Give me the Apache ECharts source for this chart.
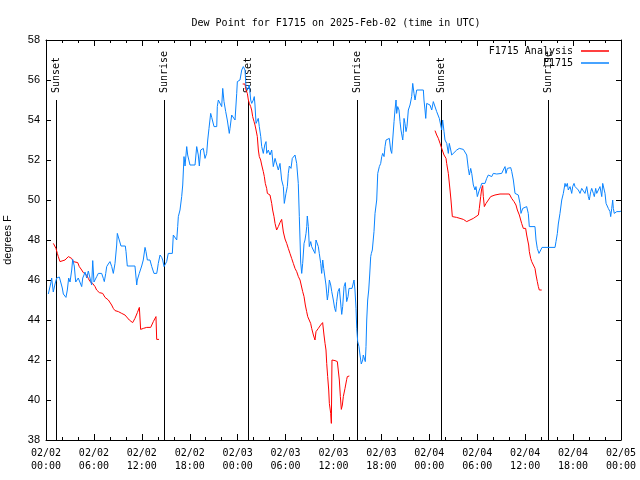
<!DOCTYPE html>
<html>
<head>
<meta charset="utf-8">
<script src="https://cdn.jsdelivr.net/npm/echarts@6/dist/echarts.min.js"></script>
<style>html,body{margin:0;padding:0;background:#fff}#c{width:640px;height:480px}</style>
</head>
<body>
<div id="c"></div>
<script>
// ---------- DATA ----------
const titleText = 'Dew Point for F1715 on 2025-Feb-02 (time in UTC)';
const yAxisName = 'degrees F';
const xTickLabels = ['02/02\n00:00','02/02\n06:00','02/02\n12:00','02/02\n18:00','02/03\n00:00','02/03\n06:00','02/03\n12:00','02/03\n18:00','02/04\n00:00','02/04\n06:00','02/04\n12:00','02/04\n18:00','02/05\n00:00'];
const yMin = 38, yMax = 58, yStep = 2;
const xMin = 0, xMax = 72, xStep = 6; // hours since 02/02 00:00 UTC

// Sun events (hours since start)
const sunHours = [1.25, 14.81, 25.33, 38.91, 49.42, 62.90];
const sunLabels = ['Sunset','Sunrise','Sunset','Sunrise','Sunset','Sunrise'];
const sunLineTop = 55;

// F1715 observations
const obsHours = [0.29,0.63,0.71,0.91,1.13,1.34,1.67,1.84,2.04,2.17,2.50,2.67,2.84,3.01,3.22,3.34,3.54,3.72,4.04,4.26,4.47,4.60,4.76,4.88,5.10,5.30,5.51,5.72,5.85,6.01,6.35,6.55,6.97,7.18,7.30,7.48,7.60,7.80,8.01,8.23,8.43,8.64,8.85,8.93,9.18,9.39,9.93,10.02,10.18,11.14,11.36,11.43,11.68,11.98,12.18,12.40,12.52,12.69,13.02,13.24,13.52,13.86,13.94,14.06,14.28,14.49,14.61,14.78,15.03,15.11,15.31,15.82,15.94,16.15,16.37,16.49,16.57,16.78,16.99,17.12,17.28,17.41,17.62,17.74,18.03,18.66,18.87,19.07,19.20,19.37,19.50,19.70,19.91,20.12,20.25,20.41,20.62,20.75,20.95,21.04,21.38,21.45,21.58,21.79,22.00,22.13,22.29,22.50,22.70,22.95,23.04,23.25,23.45,23.67,23.88,23.96,24.29,24.51,24.71,24.92,25.04,25.21,25.33,25.46,25.63,25.76,25.96,26.08,26.17,26.30,26.46,26.58,26.71,26.89,27.01,27.21,27.39,27.55,27.64,27.84,28.05,28.26,28.46,28.68,28.89,29.09,29.30,29.51,29.72,29.84,30.05,30.22,30.34,30.47,30.68,30.84,31.18,31.39,31.59,31.72,31.81,31.89,32.02,32.14,32.31,32.43,32.56,32.65,32.72,32.85,32.97,33.15,33.27,33.47,33.68,33.81,33.97,34.10,34.22,34.40,34.52,34.65,34.77,34.94,35.06,35.23,35.35,35.48,35.65,35.78,35.98,36.15,36.28,36.40,36.56,36.73,36.94,37.03,37.15,37.32,37.48,37.65,37.82,37.94,38.15,38.32,38.48,38.57,38.69,38.82,38.91,39.03,39.19,39.32,39.48,39.66,39.73,39.86,39.98,40.07,40.16,40.28,40.41,40.53,40.66,40.74,40.86,40.99,41.07,41.20,41.41,41.54,41.74,41.91,42.04,42.16,42.33,42.45,42.58,42.74,42.99,43.16,43.29,43.41,43.58,43.70,43.83,43.91,44.04,44.20,44.33,44.45,44.67,44.74,44.83,44.95,45.08,45.20,45.37,45.58,45.79,45.92,46.08,46.21,46.42,46.62,47.25,47.33,47.46,47.55,47.67,47.87,48.08,48.30,48.50,48.71,48.92,49.12,49.25,49.42,49.55,49.67,49.84,49.96,50.18,50.38,50.50,50.68,50.80,51.00,51.43,51.75,52.26,52.47,52.68,52.88,53.01,53.18,53.31,53.51,53.72,53.84,54.01,54.26,54.43,54.56,54.76,54.97,55.18,55.39,55.60,55.81,56.01,56.44,57.06,57.26,57.48,57.60,57.77,57.94,58.19,58.32,58.52,58.73,59.14,59.35,59.48,59.69,60.19,60.39,60.52,61.23,61.36,61.52,61.73,61.95,62.11,63.74,63.86,64.03,64.15,64.36,64.58,64.78,64.99,65.11,65.28,65.40,65.62,65.83,65.95,66.12,66.24,66.45,66.66,66.87,67.08,67.28,67.49,67.71,67.91,68.03,68.21,68.33,68.54,68.66,68.83,68.96,69.16,69.37,69.59,69.71,69.87,70.00,70.13,70.29,70.41,70.62,70.71,70.84,70.96,71.04,71.16,71.29,71.47,71.67,71.88,72.00];
const obsValues = [45.3,45.9,46.1,45.4,45.8,46.1,46.15,46.25,45.6,45.3,45.13,45.5,46.1,45.9,46.5,47.03,46.7,45.9,46.1,46.1,45.67,46.1,46.25,46.4,46.1,46.45,46.45,45.75,46.97,45.9,46.17,46.33,46.33,46.08,45.92,46.33,46.67,46.8,46.92,46.67,46.33,46.83,47.75,48.33,48.33,47.7,47.7,47.42,46.7,46.7,45.75,46.0,46.33,46.7,47.0,47.63,47.42,47.0,47.0,46.67,46.33,46.33,46.5,46.83,47.25,47.13,47.0,46.67,46.67,46.92,47.33,47.33,48.25,48.17,48.0,48.67,49.17,49.5,50.17,50.75,52.17,51.7,52.67,52.25,51.75,51.75,52.67,52.25,51.7,52.5,52.58,52.58,52.08,52.33,53.0,53.58,54.33,54.13,54.08,53.67,53.67,54.67,55.0,55.08,54.67,55.58,54.92,54.42,54.0,53.33,53.58,54.25,54.33,54.0,55.33,55.92,56.0,56.5,56.67,56.5,55.67,55.5,55.42,55.75,55.0,54.83,55.0,55.17,54.75,53.83,53.75,54.08,53.67,53.17,52.67,52.33,52.75,52.92,52.33,52.5,52.25,52.5,51.67,52.08,52.17,51.5,51.83,51.0,50.67,49.83,50.33,50.67,51.33,51.7,51.58,52.08,52.25,51.83,50.83,49.17,48.0,46.9,46.33,46.83,47.83,48.0,48.33,48.67,49.2,48.67,47.67,47.92,47.67,47.5,47.33,48.0,47.97,47.67,47.33,46.83,46.33,47.0,46.58,46.5,45.75,45.0,45.33,46.0,45.75,45.42,45.0,44.58,44.42,44.92,45.42,45.58,45.58,44.28,44.67,45.67,45.87,44.92,45.17,45.58,45.5,45.58,45.58,46.0,45.5,44.58,43.58,42.92,42.67,42.25,41.8,42.0,42.25,42.17,41.92,42.67,44.0,45.0,45.5,46.25,47.17,47.33,47.5,47.58,48.42,49.33,50.0,51.33,51.67,51.83,52.17,52.33,52.17,52.67,53.0,53.0,53.08,52.5,52.33,53.0,53.92,54.5,55.0,54.33,54.67,54.5,53.92,53.5,53.0,53.33,54.08,53.83,53.42,53.67,54.5,54.75,55.17,55.83,55.33,55.0,55.5,55.5,55.5,55.0,54.5,54.08,54.83,54.92,54.75,54.5,54.92,54.83,54.42,54.33,54.08,54.17,53.5,54.0,53.42,53.0,52.83,52.33,52.83,52.5,52.25,52.33,52.5,52.58,52.53,52.5,52.25,51.58,51.25,51.58,51.33,50.75,50.5,50.67,50.17,50.5,50.67,50.83,50.92,50.83,51.08,51.25,51.33,51.17,51.33,51.3,51.33,51.5,51.67,51.33,51.58,51.58,51.62,51.42,51.0,50.33,50.25,49.83,49.33,49.58,49.67,49.33,48.67,48.67,48.0,47.58,47.33,47.5,47.63,47.63,47.92,48.33,48.8,49.33,50.0,50.33,50.83,50.67,50.83,50.5,50.67,50.33,50.67,50.83,50.67,50.75,50.5,50.33,50.58,50.67,50.33,50.67,50.17,50.0,50.42,50.58,50.33,50.17,50.58,50.33,50.42,50.67,50.17,50.83,50.92,50.33,49.83,49.75,49.58,49.42,49.17,49.58,50.0,49.58,49.33,49.42,49.42,49.5,49.42,49.45];

// F1715 Analysis (three separate runs)
const anaHours1 = [0.92,1.13,1.25,1.42,1.54,1.75,2.00,2.38,2.80,3.01,3.21,3.42,3.63,3.97,4.17,4.47,4.67,5.09,5.30,5.51,5.84,6.14,6.34,6.68,7.10,7.39,7.81,8.01,8.22,8.43,8.64,9.06,9.48,9.68,9.89,10.10,10.43,10.85,11.14,11.44,11.69,11.85,12.19,12.61,13.11,13.44,13.77,13.86,14.15];
const anaValues1 = [47.83,47.8,47.58,47.33,47.17,46.92,46.87,47.0,47.17,47.17,47.08,46.92,46.87,46.87,46.67,46.5,46.37,46.25,46.08,45.92,45.83,45.67,45.5,45.37,45.33,45.13,45.0,44.92,44.75,44.58,44.47,44.42,44.33,44.3,44.25,44.17,44.0,43.87,44.08,44.37,44.63,43.53,43.58,43.63,43.63,43.92,44.17,43.03,43.03];
const anaHours2 = [24.63,24.92,25.04,25.21,25.34,25.46,25.63,25.75,25.88,26.05,26.17,26.30,26.46,26.59,26.71,26.88,27.01,27.21,27.34,27.46,27.63,27.72,28.05,28.26,28.38,28.55,28.68,28.88,29.09,29.30,29.51,29.72,29.93,30.14,30.34,30.55,30.76,30.97,31.18,31.39,31.60,31.81,32.01,32.14,32.31,32.47,32.64,32.77,32.97,33.14,33.27,33.48,33.68,33.81,34.10,34.39,34.64,34.81,34.94,35.06,35.15,35.27,35.40,35.48,35.65,35.73,35.81,36.19,36.48,36.73,36.86,36.98,37.11,37.23,37.44,37.65,37.73,37.98];
const anaValues2 = [55.8,55.8,55.5,55.33,55.0,54.83,54.67,54.5,54.17,53.92,53.75,53.5,53.17,52.5,52.17,52.0,51.75,51.42,51.17,50.83,50.58,50.33,50.25,49.83,49.5,49.17,48.83,48.5,48.67,48.87,49.03,48.4,48.05,47.83,47.58,47.33,47.08,46.83,46.58,46.42,46.17,46.0,45.92,45.42,45.17,44.75,44.42,44.17,44.08,43.83,43.58,43.25,43.0,43.42,43.58,43.75,43.87,43.25,42.83,42.5,41.83,41.17,40.5,39.83,39.33,38.83,42.0,41.97,41.92,41.0,40.17,39.53,39.75,40.17,40.58,41.03,41.17,41.2];
const anaHours3 = [48.71,48.92,49.13,49.34,49.55,49.84,50.09,50.17,50.38,50.59,50.71,50.88,51.42,51.84,52.26,52.68,53.09,53.51,53.84,54.14,54.26,54.43,54.56,54.68,54.76,54.89,55.10,55.39,55.68,56.22,56.85,57.48,58.02,58.31,58.60,58.85,59.02,59.27,59.56,59.77,60.06,60.19,60.31,60.44,60.52,60.69,60.82,61.02,61.23,61.36,61.52,61.65,61.77,62.07];
const anaValues3 = [53.47,53.25,53.08,52.83,52.58,52.25,52.08,51.83,51.33,50.5,50.0,49.17,49.13,49.08,49.03,48.92,49.0,49.08,49.17,49.25,49.58,50.17,50.58,50.72,50.17,49.67,49.83,50.0,50.17,50.25,50.3,50.3,50.3,50.08,49.92,49.75,49.5,49.25,48.83,48.58,48.58,48.25,48.0,47.75,47.42,47.08,46.92,46.87,46.58,46.25,45.92,45.67,45.5,45.5];

// ---------- BUILD ----------
const zip = (a, b) => a.map((v, i) => [v, b[i]]);
const anaData = zip(anaHours1, anaValues1)
  .concat([[ (anaHours1[anaHours1.length-1] + anaHours2[0]) / 2, null ]])
  .concat(zip(anaHours2, anaValues2))
  .concat([[ (anaHours2[anaHours2.length-1] + anaHours3[0]) / 2, null ]])
  .concat(zip(anaHours3, anaValues3));
const obsData = zip(obsHours, obsValues);
const sunData = sunHours.map((h, i) => [h, sunLabels[i]]);

const MONO = '"DejaVu Sans Mono", "Liberation Mono", monospace';
const SANS = '"Liberation Sans", Arial, sans-serif';
const RED = '#ff0000', BLUE = '#0a84ff';

const axisCommonX = {
  type: 'value', min: xMin, max: xMax, interval: xStep,
  axisLine: { show: true, onZero: false, lineStyle: { color: '#000', width: 1 } },
  axisTick: { show: true, inside: true, length: 6, lineStyle: { color: '#000' } },
  minorTick: { show: true, splitNumber: 3, length: 3, lineStyle: { color: '#000' } },
  splitLine: { show: false }
};
const axisCommonY = {
  type: 'value', min: yMin, max: yMax, interval: yStep,
  axisLine: { show: true, onZero: false, lineStyle: { color: '#000', width: 1 } },
  axisTick: { show: true, inside: true, length: 5, lineStyle: { color: '#000' } },
  splitLine: { show: false }
};

const chart = echarts.init(document.getElementById('c'), null, { renderer: 'canvas' });
chart.setOption({
  animation: false,
  backgroundColor: '#fff',
  title: {
    text: titleText, left: 331, top: 13, textAlign: 'center',
    textStyle: { fontFamily: MONO, fontSize: 10, fontWeight: 'normal', color: '#000' }
  },
  legend: [
    { data: ['F1715 Analysis'], right: 31, top: 46, padding: 0, align: 'right', orient: 'vertical',
      icon: 'rect', itemWidth: 28, itemHeight: 1.5, itemGap: 0,
      textStyle: { fontFamily: MONO, fontSize: 10, color: '#000', padding: [0, 3, 0, 0] } },
    { data: ['F1715'], right: 31, top: 58, padding: 0, align: 'right', orient: 'vertical',
      icon: 'rect', itemWidth: 28, itemHeight: 1.5, itemGap: 0,
      textStyle: { fontFamily: MONO, fontSize: 10, color: '#000', padding: [0, 3, 0, 0] } }
  ],
  grid: { left: 46, right: 19, top: 40, bottom: 40, containLabel: false, outerBoundsMode: 'none' },
  xAxis: [
    Object.assign({}, axisCommonX, {
      position: 'bottom',
      axisLabel: { show: true, margin: 7, fontFamily: MONO, fontSize: 10, lineHeight: 13, color: '#000',
        formatter: v => xTickLabels[Math.round((v - xMin) / xStep)] || '' }
    }),
    Object.assign({}, axisCommonX, { position: 'top', axisLabel: { show: false } })
  ],
  yAxis: [
    Object.assign({}, axisCommonY, {
      position: 'left',
      name: yAxisName, nameLocation: 'middle', nameGap: 33,
      nameTextStyle: { fontFamily: SANS, fontSize: 11, color: '#000' },
      axisLabel: { show: true, margin: 6, fontFamily: SANS, fontSize: 11, color: '#000' }
    }),
    Object.assign({}, axisCommonY, { position: 'right', axisLabel: { show: false } })
  ],
  series: [
    {
      type: 'custom', name: 'sun', xAxisIndex: 0, yAxisIndex: 0, silent: true, clip: false, z: 1,
      data: sunData,
      renderItem: function (params, api) {
        const h = api.value(0);
        const top = api.coord([h, sunLineTop]);
        const bot = api.coord([h, yMin]);
        const x = Math.round(top[0]) + 0.5;
        return {
          type: 'group',
          children: [
            { type: 'line', shape: { x1: x, y1: top[1], x2: x, y2: bot[1] },
              style: { stroke: '#000', lineWidth: 1 } },
            { type: 'text', x: x, y: top[1] - 7, rotation: Math.PI / 2,
              style: { text: sunLabels[params.dataIndex], align: 'left', verticalAlign: 'middle',
                       font: '10px ' + MONO, fill: '#000' } }
          ]
        };
      }
    },
    {
      name: 'F1715 Analysis', type: 'line', data: anaData, showSymbol: false, symbol: 'none',
      connectNulls: false, color: RED, lineStyle: { color: RED, width: 1 }, z: 2
    },
    {
      name: 'F1715', type: 'line', data: obsData, showSymbol: false, symbol: 'none',
      color: BLUE, lineStyle: { color: BLUE, width: 1 }, z: 3
    }
  ]
});
</script>
</body>
</html>
